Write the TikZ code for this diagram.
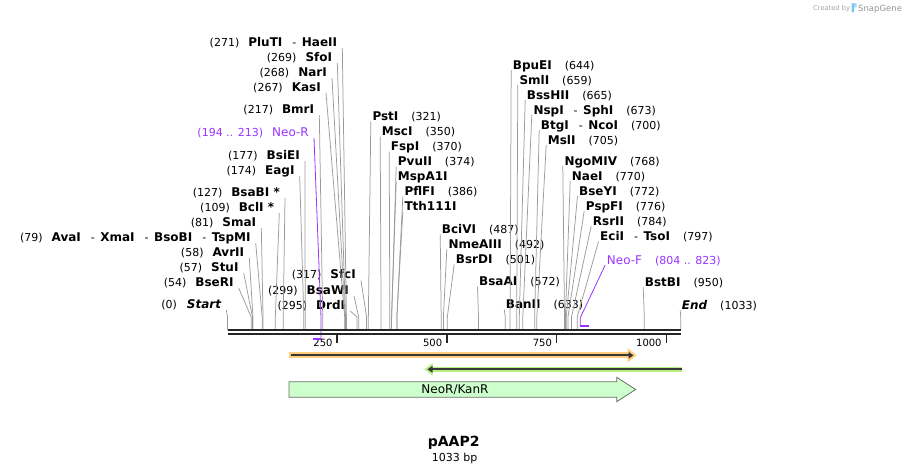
\documentclass[tikz,border=0pt]{standalone}
\usepackage{fontspec}
\setmainfont{DejaVu Sans}
\usepackage{tikz}
\usetikzlibrary{
	arrows.meta
}

\definecolor{cutgray}{RGB}{155,155,155}
\definecolor{primerpurple}{RGB}{153,51,255}
\definecolor{gloworange}{RGB}{255,207,125}
\definecolor{glowgreen}{RGB}{180,240,125}
\definecolor{featgreen}{RGB}{204,255,204}
\definecolor{featedge}{RGB}{110,110,110}
\definecolor{arrowdark}{RGB}{55,55,55}
\definecolor{markgray}{RGB}{165,165,165}
\definecolor{markblue}{RGB}{120,200,240}

\newcommand{\enz}[1]{{\fontsize{12}{14}\selectfont\bfseries #1}}
\newcommand{\enzsep}{\hspace{10pt}-\hspace{5.5pt}}

\begin{document}
\begin{tikzpicture}[
	x=1pt, y=-1pt,
	lblL/.style={anchor=base east, inner xsep=5pt, inner ysep=1pt, font=\fontsize{11}{13}\selectfont},
	lblR/.style={anchor=base west, inner xsep=1.5pt, inner ysep=1pt, font=\fontsize{11}{13}\selectfont},
	cut/.style={draw=cutgray, line width=0.75pt},
	primer/.style={draw=primerpurple, line width=0.8pt},
	primerbar/.style={draw=primerpurple, line width=1.8pt},
	strand/.style={draw=black!85, line width=2.3pt},
	tick/.style={draw=black!85, line width=1.6pt},
	ticklbl/.style={anchor=base east, inner sep=0, xshift=-4.5pt, font=\fontsize{10}{12}\selectfont},
	wm/.style={anchor=base west, inner sep=0}
]
	\useasboundingbox (0,0) rectangle (910,474);

	\begin{scope}[shift={(227.5,0)}, x=0.4388pt]
		\coordinate (s0) at (0,330);
		\coordinate (s54) at (54,330);
		\coordinate (s57) at (57,330);
		\coordinate (s58) at (58,330);
		\coordinate (s79) at (79,330);
		\coordinate (s81) at (81,330);
		\coordinate (s109) at (109,330);
		\coordinate (s127) at (127,330);
		\coordinate (s174) at (174,330);
		\coordinate (s177) at (177,330);
		\coordinate (s217) at (217,330);
		\coordinate (s267) at (267,330);
		\coordinate (s268) at (268,330);
		\coordinate (s269) at (269,330);
		\coordinate (s271) at (271,330);
		\coordinate (s295) at (295,330);
		\coordinate (s299) at (299,330);
		\coordinate (s317) at (317,330);
		\coordinate (s321) at (321,330);
		\coordinate (s350) at (350,330);
		\coordinate (s370) at (370,330);
		\coordinate (s374) at (374,330);
		\coordinate (s386) at (386,330);
		\coordinate (s487) at (487,330);
		\coordinate (s492) at (492,330);
		\coordinate (s501) at (501,330);
		\coordinate (s572) at (572,330);
		\coordinate (s633) at (633,330);
		\coordinate (s644) at (644,330);
		\coordinate (s659) at (659,330);
		\coordinate (s665) at (665,330);
		\coordinate (s673) at (673,330);
		\coordinate (s700) at (700,330);
		\coordinate (s705) at (705,330);
		\coordinate (s768) at (768,330);
		\coordinate (s770) at (770,330);
		\coordinate (s772) at (772,330);
		\coordinate (s776) at (776,330);
		\coordinate (s784) at (784,330);
		\coordinate (s797) at (797,330);
		\coordinate (s950) at (950,330);
		\coordinate (s1033) at (1033,330);
		\coordinate (pR-a) at (194,338.7);
		\coordinate (pR-b) at (213,338.7);
		\coordinate (pF-a) at (804,325.7);
		\coordinate (pF-b) at (823,325.7);

		\draw[tick] (250,335) -- (250,342.5);
		\draw[tick] (500,335) -- (500,342.5);
		\draw[tick] (750,335) -- (750,342.5);
		\draw[tick] (1000,335) -- (1000,342.5);
		\node[ticklbl] (n250) at (250,346) {250};
		\node[ticklbl] (n500) at (500,346) {500};
		\node[ticklbl] (n750) at (750,346) {750};
		\node[ticklbl] (n1000) at (1000,346) {1000};
	\end{scope}

	\node[lblL] (PluTI) at (342.3,46) {(271)\hspace{9pt}\enz{PluTI}\enzsep\enz{HaeII}};
	\node[lblL] (SfoI) at (337.3,61) {(269)\hspace{9pt}\enz{SfoI}};
	\node[lblL] (NarI) at (332,76) {(268)\hspace{9pt}\enz{NarI}};
	\node[lblL] (KasI) at (326,91) {(267)\hspace{9pt}\enz{KasI}};
	\node[lblL] (BmrI) at (319.3,113) {(217)\hspace{9pt}\enz{BmrI}};
	\node[lblL, text=primerpurple] (NeoR) at (314,136) {(194 .. 213)\hspace{9pt}{\fontsize{12}{14}\selectfont Neo-R}};
	\node[lblL] (BsiEI) at (305,159) {(177)\hspace{9pt}\enz{BsiEI}};
	\node[lblL] (EagI) at (299.7,174) {(174)\hspace{9pt}\enz{EagI}};
	\node[lblL] (BsaBI) at (285,196) {(127)\hspace{9pt}\enz{BsaBI *}};
	\node[lblL] (BclI) at (279.3,211) {(109)\hspace{9pt}\enz{BclI *}};
	\node[lblL] (SmaI) at (261.3,226) {(81)\hspace{9pt}\enz{SmaI}};
	\node[lblL] (AvaI) at (255.7,241) {(79)\hspace{9pt}\enz{AvaI}\enzsep\enz{XmaI}\enzsep\enz{BsoBI}\enzsep\enz{TspMI}};
	\node[lblL] (AvrII) at (249.3,256) {(58)\hspace{9pt}\enz{AvrII}};
	\node[lblL] (StuI) at (243.7,271) {(57)\hspace{9pt}\enz{StuI}};
	\node[lblL] (BseRI) at (238.7,286) {(54)\hspace{9pt}\enz{BseRI}};
	\node[lblL] (Start) at (226.3,308) {(0)\hspace{10pt}\enz{\itshape Start}};
	\node[lblL] (SfcI) at (361,278.5) {(317)\hspace{9pt}\enz{SfcI}};
	\node[lblL] (BsaWI) at (354,294) {(299)\hspace{9pt}\enz{BsaWI}};
	\node[lblL] (DrdI) at (350.3,309) {(295)\hspace{9pt}\enz{DrdI}};

	\node[lblR] (PstI) at (370.8,120.7) {\enz{PstI}\hspace{13pt}(321)};
	\node[lblR] (MscI) at (380.2,135.7) {\enz{MscI}\hspace{13pt}(350)};
	\node[lblR] (FspI) at (389.2,150.7) {\enz{FspI}\hspace{13pt}(370)};
	\node[lblR] (PvuII) at (396.2,165.7) {\enz{PvuII}\hspace{13pt}(374)};
	\node[lblR] (MspA1I) at (396.2,180.7) {\enz{MspA1I}};
	\node[lblR] (PflFI) at (402.8,195.7) {\enz{PflFI}\hspace{13pt}(386)};
	\node[lblR] (Tth111I) at (402.8,210.7) {\enz{Tth111I}};
	\node[lblR] (BciVI) at (440.2,233.3) {\enz{BciVI}\hspace{13pt}(487)};
	\node[lblR] (NmeAIII) at (446.8,248.3) {\enz{NmeAIII}\hspace{13pt}(492)};
	\node[lblR] (BsrDI) at (454.2,263.3) {\enz{BsrDI}\hspace{13pt}(501)};
	\node[lblR] (BsaAI) at (477.5,285.7) {\enz{BsaAI}\hspace{13pt}(572)};
	\node[lblR] (BanII) at (504.2,308.3) {\enz{BanII}\hspace{13pt}(633)};
	\node[lblR] (BpuEI) at (511.2,69) {\enz{BpuEI}\hspace{13pt}(644)};
	\node[lblR] (SmlI) at (517.8,84) {\enz{SmlI}\hspace{13pt}(659)};
	\node[lblR] (BssHII) at (525.2,99) {\enz{BssHII}\hspace{13pt}(665)};
	\node[lblR] (NspI) at (531.8,114) {\enz{NspI}\enzsep\enz{SphI}\hspace{13pt}(673)};
	\node[lblR] (BtgI) at (539.2,129) {\enz{BtgI}\enzsep\enz{NcoI}\hspace{13pt}(700)};
	\node[lblR] (MslI) at (546.2,144) {\enz{MslI}\hspace{13pt}(705)};
	\node[lblR] (NgoMIV) at (562.8,165) {\enz{NgoMIV}\hspace{13pt}(768)};
	\node[lblR] (NaeI) at (570.2,180) {\enz{NaeI}\hspace{13pt}(770)};
	\node[lblR] (BseYI) at (577.5,195) {\enz{BseYI}\hspace{13pt}(772)};
	\node[lblR] (PspFI) at (584.2,210) {\enz{PspFI}\hspace{13pt}(776)};
	\node[lblR] (RsrII) at (591.2,225) {\enz{RsrII}\hspace{13pt}(784)};
	\node[lblR] (EciI) at (598.5,240.5) {\enz{EciI}\enzsep\enz{TsoI}\hspace{13pt}(797)};
	\node[lblR, text=primerpurple] (NeoF) at (605.2,264) {{\fontsize{12}{14}\selectfont Neo-F}\hspace{13pt}(804 .. 823)};
	\node[lblR] (BstBI) at (643.2,286) {\enz{BstBI}\hspace{13pt}(950)};
	\node[lblR] (End) at (680.2,309.3) {\enz{\itshape End}\hspace{13pt}(1033)};

	\draw[cut] ([yshift=-2pt]PluTI.base east) -- ([yshift=13pt]s271) -- (s271);
	\draw[cut] ([yshift=-2pt]SfoI.base east) -- ([yshift=13pt]s269) -- (s269);
	\draw[cut] ([yshift=-2pt]NarI.base east) -- ([yshift=13pt]s268) -- (s268);
	\draw[cut] ([yshift=-2pt]KasI.base east) -- ([yshift=13pt]s267) -- (s267);
	\draw[cut] ([yshift=-2pt]BmrI.base east) -- ([yshift=13pt]s217) -- (s217);
	\draw[cut] ([yshift=-2pt]BsiEI.base east) -- ([yshift=13pt]s177) -- (s177);
	\draw[cut] ([yshift=-2pt]EagI.base east) -- ([yshift=13pt]s174) -- (s174);
	\draw[cut] ([yshift=-2pt]BsaBI.base east) -- ([yshift=13pt]s127) -- (s127);
	\draw[cut] ([yshift=-2pt]BclI.base east) -- ([yshift=13pt]s109) -- (s109);
	\draw[cut] ([yshift=-2pt]SmaI.base east) -- ([yshift=13pt]s81) -- (s81);
	\draw[cut] ([yshift=-2pt]AvaI.base east) -- ([yshift=13pt]s79) -- (s79);
	\draw[cut] ([yshift=-2pt]AvrII.base east) -- ([yshift=13pt]s58) -- (s58);
	\draw[cut] ([yshift=-2pt]StuI.base east) -- ([yshift=13pt]s57) -- (s57);
	\draw[cut] ([yshift=-2pt]BseRI.base east) -- ([yshift=13pt]s54) -- (s54);
	\draw[cut] ([yshift=-2pt]Start.base east) -- ([yshift=13pt]s0) -- (s0);
	\draw[cut] ([yshift=-2pt]SfcI.base east) -- ([yshift=13pt]s317) -- (s317);
	\draw[cut] ([yshift=-2pt]BsaWI.base east) -- ([yshift=13pt]s299) -- (s299);
	\draw[cut] ([yshift=-2pt]DrdI.base east) -- ([yshift=13pt]s295) -- (s295);

	\draw[cut] ([yshift=-1pt]PstI.base west) -- ([yshift=13pt]s321) -- (s321);
	\draw[cut] ([yshift=-1pt]MscI.base west) -- ([yshift=13pt]s350) -- (s350);
	\draw[cut] ([yshift=-1pt]FspI.base west) -- ([yshift=13pt]s370) -- (s370);
	\draw[cut] ([yshift=-1pt]PvuII.base west) -- ([yshift=13pt]s374) -- (s374);
	\draw[cut] ([yshift=-1pt]MspA1I.base west) -- ([yshift=13pt]s374) -- (s374);
	\draw[cut] ([yshift=-1pt]PflFI.base west) -- ([yshift=13pt]s386) -- (s386);
	\draw[cut] ([yshift=-1pt]Tth111I.base west) -- ([yshift=13pt]s386) -- (s386);
	\draw[cut] ([yshift=-1pt]BciVI.base west) -- ([yshift=13pt]s487) -- (s487);
	\draw[cut] ([yshift=-1pt]NmeAIII.base west) -- ([yshift=13pt]s492) -- (s492);
	\draw[cut] ([yshift=-1pt]BsrDI.base west) -- ([yshift=13pt]s501) -- (s501);
	\draw[cut] ([yshift=-1pt]BsaAI.base west) -- ([yshift=13pt]s572) -- (s572);
	\draw[cut] ([yshift=-1pt]BanII.base west) -- ([yshift=13pt]s633) -- (s633);
	\draw[cut] ([yshift=-1pt]BpuEI.base west) -- ([yshift=13pt]s644) -- (s644);
	\draw[cut] ([yshift=-1pt]SmlI.base west) -- ([yshift=13pt]s659) -- (s659);
	\draw[cut] ([yshift=-1pt]BssHII.base west) -- ([yshift=13pt]s665) -- (s665);
	\draw[cut] ([yshift=-1pt]NspI.base west) -- ([yshift=13pt]s673) -- (s673);
	\draw[cut] ([yshift=-1pt]BtgI.base west) -- ([yshift=13pt]s700) -- (s700);
	\draw[cut] ([yshift=-1pt]MslI.base west) -- ([yshift=13pt]s705) -- (s705);
	\draw[cut] ([yshift=-1pt]NgoMIV.base west) -- ([yshift=13pt]s768) -- (s768);
	\draw[cut] ([yshift=-1pt]NaeI.base west) -- ([yshift=13pt]s770) -- (s770);
	\draw[cut] ([yshift=-1pt]BseYI.base west) -- ([yshift=13pt]s772) -- (s772);
	\draw[cut] ([yshift=-1pt]PspFI.base west) -- ([yshift=13pt]s776) -- (s776);
	\draw[cut] ([yshift=-1pt]RsrII.base west) -- ([yshift=13pt]s784) -- (s784);
	\draw[cut] ([yshift=-1pt]EciI.base west) -- ([yshift=13pt]s797) -- (s797);
	\draw[cut] ([yshift=-1pt]BstBI.base west) -- ([yshift=13pt]s950) -- (s950);
	\draw[cut] ([yshift=-1pt]End.base west) -- ([yshift=13pt]s1033) -- (s1033);

	\draw[primer] ([yshift=-2pt]NeoR.base east) -- ([yshift=22pt]pR-b) -- (pR-b);
	\draw[primerbar] (pR-b) -- (pR-a);
	\draw[primer] ([yshift=-1pt]NeoF.base west) -- ([yshift=8pt]pF-a) -- (pF-a);
	\draw[primerbar] (pF-a) -- (pF-b);

	\draw[strand] ([yshift=-0.3pt]s0) -- ([yshift=-0.3pt]s1033);
	\draw[strand] ([yshift=-4pt]s0) -- ([yshift=-4pt]s1033);

	\draw[line width=6pt, gloworange, -{Triangle[length=9pt,width=14pt]}] (288.5,355.3) -- (636.5,355.3);
	\draw[line width=1.7pt, arrowdark, -{Triangle[length=5pt,width=6.5pt]}] (291,355.3) -- (633.5,355.3);
	\draw[line width=4.5pt, glowgreen, -{Triangle[length=8pt,width=12pt]}] (681.7,369.3) -- (424.5,369.3);
	\draw[line width=1.7pt, arrowdark, -{Triangle[length=5pt,width=6.5pt]}] (681.7,369.3) -- (427.5,369.3);

	\draw[featedge, fill=featgreen, line width=0.8pt] (289,381.7) -- (616.7,381.7) -- (616.7,377.3) -- (635.7,389.5) -- (616.7,401.7) -- (616.7,397.3) -- (289,397.3) -- cycle;
	\node[font=\fontsize{12}{14}\selectfont] (NeoKan) at (455,389.5) {NeoR/KanR};

	\node[anchor=base, font=\fontsize{14}{16}\selectfont\bfseries] (title) at (453.7,446.7) {pAAP2};
	\node[anchor=base, font=\fontsize{11}{13}\selectfont] (size) at (454.7,461.3) {1033 bp};

	\node[wm, text=markgray, font=\fontsize{6.7}{8}\selectfont] (created) at (813,10.5) {Created by};
	\fill[markblue, rounded corners=1pt] (851.5,3) rectangle (854.2,12.5);
	\fill[markblue!70] (854.2,3) -- (856.5,3.5) -- (856.5,7) -- (854.2,7.5) -- cycle;
	\node[wm, text=markgray!90!black, font=\fontsize{8.5}{10}\selectfont] (snapgene) at (858,11) {SnapGene};
\end{tikzpicture}
\end{document}
